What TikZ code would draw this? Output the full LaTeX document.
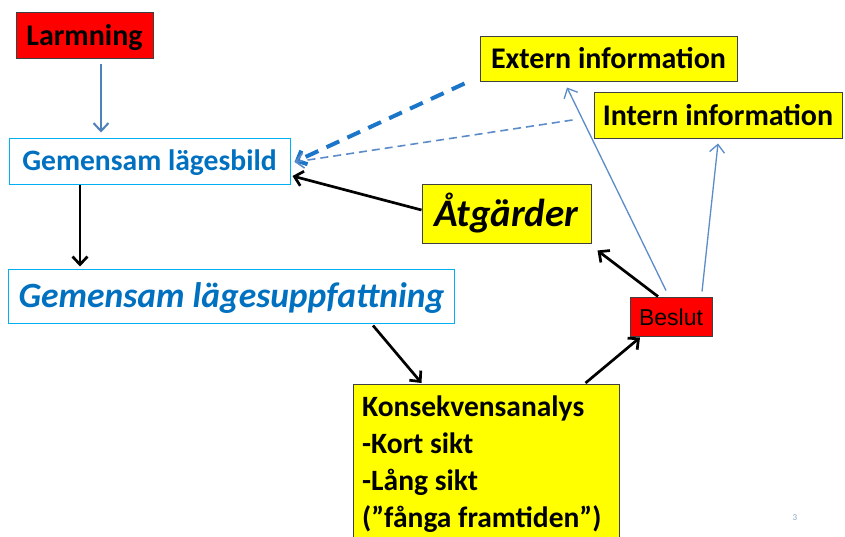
\documentclass[tikz,border=0pt]{standalone}
\usepackage{fontspec}
\setmainfont{Carlito}
\newfontfamily\arialf{Liberation Sans}
\usetikzlibrary{arrows.meta}
\definecolor{boxred}{HTML}{FF0000}
\definecolor{boxyellow}{HTML}{FFFF00}
\definecolor{lightblue}{HTML}{00B0F0}
\definecolor{textblue}{HTML}{0070C0}
\definecolor{steel}{HTML}{4F81BD}
\definecolor{thinblue}{HTML}{5B8CC9}
\definecolor{dashblue}{HTML}{1B75C8}
\definecolor{pagegray}{HTML}{8EA9C1}
\tikzset{
  solidbox/.style={draw=black!75, line width=1pt, inner sep=0pt},
  redbox/.style={solidbox, fill=boxred},
  yellowbox/.style={solidbox, fill=boxyellow},
  bluebox/.style={draw=lightblue, line width=1pt, fill=white, inner sep=0pt, text=textblue},
  tip/.style={-{Straight Barb[length=8pt,width=15pt]}},
  blackarrow/.style={tip, draw=black, line width=2.7pt},
  steelarrow/.style={tip, draw=steel, line width=2pt},
  thinarrow/.style={tip, draw=thinblue, line width=1.3pt},
  thickdash/.style={tip, draw=dashblue, line width=4pt, dash pattern=on 14pt off 9pt},
  thindash/.style={tip, draw=thinblue, line width=1.6pt, dash pattern=on 8pt off 5pt},
}
\begin{document}
\begin{tikzpicture}[x=1pt,y=-1pt]
\useasboundingbox (0,0) rectangle (845,536);
\fill[white] (0,0) rectangle (845,536);

\node[redbox, minimum width=137pt, minimum height=46pt, text height=25.5pt, text depth=4.5pt, font=\fontsize{30}{36}\selectfont\bfseries] (larm) at (84.5,35) {Larmning};
\node[bluebox, minimum width=281pt, minimum height=46pt, text height=24.2pt, text depth=5.4pt, font=\fontsize{29.6}{36}\selectfont\bfseries] (lb) at (149.5,161) {Gemensam lägesbild};
\node[bluebox, minimum width=446pt, minimum height=54pt, text height=29.1pt, text depth=6.4pt, font=\fontsize{35.5}{42}\selectfont\bfseries\itshape] (lu) at (231.5,296) {Gemensam lägesuppfattning};
\node[yellowbox, minimum width=169pt, minimum height=59pt, text height=32.3pt, text depth=6.7pt, font=\fontsize{39}{46}\selectfont\bfseries\itshape] (atg) at (506.5,213.5) {Åtgärder};
\node[yellowbox, minimum width=257pt, minimum height=45pt, text height=25pt, text depth=5pt, font=\fontsize{30}{36}\selectfont\bfseries] (ext) at (608.5,58.5) {Extern information};
\node[yellowbox, minimum width=248pt, minimum height=46pt, text height=25pt, text depth=5pt, font=\fontsize{30}{36}\selectfont\bfseries] (int) at (718,115) {Intern information};
\node[redbox, minimum width=82pt, minimum height=39pt, text height=20.2pt, text depth=2.8pt, font=\fontsize{23}{28}\selectfont\arialf] (beslut) at (671,316.5) {Beslut};
\node[draw=black!75, line width=1pt, fill=boxyellow, anchor=north west, minimum width=266pt, minimum height=175pt, inner sep=0pt] (kons) at (353,384) {};
\node[anchor=north west, inner sep=0pt, align=left, font=\fontsize{29.5}{36.7}\selectfont\bfseries] (konstext) at ([xshift=9pt,yshift=-12pt]kons.north west)
  {Konsekvensanalys\\-Kort sikt\\-Lång sikt\\(”fånga framtiden”)};
\node[text=pagegray, inner sep=0pt, font=\fontsize{9}{11}\selectfont] (pg) at (795,518) {3};

\draw[steelarrow] ([xshift=16.5pt,yshift=-5pt]larm.south) -- ([xshift=-48.5pt,yshift=5pt]lb.north);
\draw[blackarrow] ([xshift=-69.5pt]lb.south) -- ([xshift=-151.5pt,yshift=2pt]lu.north);
\draw[blackarrow] ([yshift=3.5pt]atg.west) -- ([xshift=2pt,yshift=-15pt]lb.east);
\draw[blackarrow] ([xshift=141.5pt,yshift=-2pt]lu.south) -- ([xshift=-65pt,yshift=1pt]kons.north);
\draw[blackarrow] ([xshift=99pt,yshift=1pt]kons.north) -- ([xshift=-31pt,yshift=-1pt]beslut.south);
\draw[blackarrow] ([xshift=-13pt]beslut.north) -- ([xshift=6pt,yshift=-7pt]atg.south east);
\draw[thinarrow] ([xshift=-5pt,yshift=6pt]beslut.north) -- ([xshift=-41.5pt,yshift=-6pt]ext.south);
\draw[thinarrow] ([xshift=31pt,yshift=5pt]beslut.north) -- ([yshift=-5pt]int.south);
\draw[thickdash] ([xshift=-15pt,yshift=-2pt]ext.south west) -- ([xshift=4pt,yshift=-1pt]lb.east);
\draw[thindash] ([xshift=-21pt,yshift=-5pt]int.west) -- ([xshift=4pt,yshift=-1pt]lb.east);
\end{tikzpicture}
\end{document}
